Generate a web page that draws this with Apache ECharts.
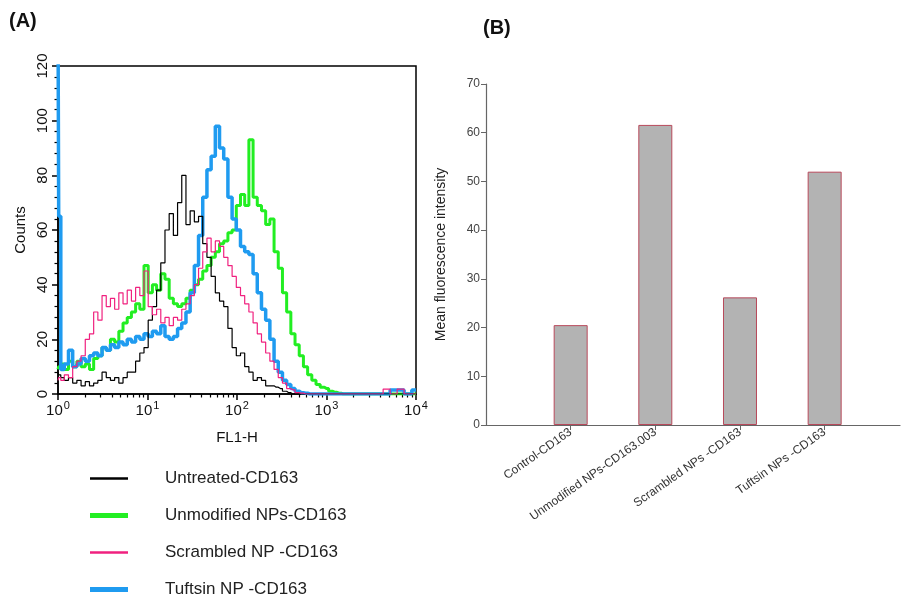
<!DOCTYPE html>
<html>
<head>
<meta charset="utf-8">
<title>CD163</title>
<script src="https://cdn.jsdelivr.net/npm/echarts@6/dist/echarts.min.js"></script>
<style>
  html, body { margin: 0; padding: 0; background: #fff; }
  #main { width: 906px; height: 608px; }
</style>
</head>
<body>
<div id="main"></div>
<script>
  // (A) FL1-H histogram, 256 channels over 4 decades
  var channels = [0,1,3,6,9,12,15,18,21,24,27,30,33,36,39,42,45,48,51,54,57,60,63,66,69,72,75,78,81,84,87,90,
    93,96,99,102,105,108,111,114,117,120,123,126,129,132,135,138,141,144,147,150,153,156,159,162,165,168,171,174,
    177,180,183,186,189,192,195,198,201,204,212,222,230,235,240,245,250,256];
  var untreated = [8,7, 6,5,6,4,5,3,4.5,3,4,5, 8,6,5,6,4,6,8,8,12,15, 17,27,32,38,48,60,66,58,70,80,
    62,67,63,65,55,50,43,37,34,32, 24,17,14,15,10,8,5,6,5,3, 3,2.5,2,1,0.5,0,0,0,0,0, 0,0,0,0,0,0,0,0, 0,0,0,0,0,0,0,0];
  var unmodified = [9,10, 11,9,12,10,12,10,11,9,13,14, 17,16,20,19,23,26,28,30,33,31, 47,37,40,38,44,42,35,33,32,33,
    35,38,40,42,45,47,50,52,55,56, 59,60,69,73,69,93,72,69,67,62, 64,52,46,37,30,22,18,14,10,7, 5,3.5,2.5,2,1,0.6,0.3,0, 0,0,0,0,0,0,0,0];
  var scrambled = [5,6, 5,7,6,10,12,14,20,22,30,27, 36,32,35,31,37,33,38,34,39,36, 45,32,29,31,26,28,25,28,27,31,
    33,36,40,46,52,57,52,56,54,50, 47,43,39,36,33,30,26,22,19,15, 12,9,6,4,2,1.5,0.5,0.3,0,0, 0,0,0,0,0,0,0,0, 0,0,0,1.8,0,1.8,0,0];
  var tuftsin = [140,65, 9,11,16,10,11,13,12,14,15,14, 17,16,18,17,19,18,20,19,21,20, 22,21,23,22,25,21,20,21,24,26,
    30,37,47,58,72,82,87,98,90,86, 72,64,60,54,52,51,44,37,31,27, 20,12,8,5,3.5,2,1,0.5,0.3,0, 0,0,0,0,0,0,0,0, 0,0,0,0,1.5,1.5,0,1.5];
  var histNames = ['Untreated-CD163', 'Unmodified NPs-CD163', 'Scrambled NP -CD163', 'Tuftsin NP -CD163'];
  var histColors = ['#000000', '#22ee22', '#f0217f', '#1f9bf0'];
  var histWidths = [1.2, 3, 1.2, 3.5];
  var legendWidths = [2.5, 5, 2.5, 5];

  // (B) mean fluorescence intensity
  var groups = ['Control-CD163', 'Unmodified NPs-CD163.003', 'Scrambled NPs -CD163', 'Tuftsin NPs -CD163'];
  var mfi = [20.5, 61.6, 26.2, 52.0];

  var font = 'Liberation Sans, Arial, sans-serif';
  var decadeTicks = [0, 64, 128, 192, 256];
  var minorTicks = [];
  for (var d = 0; d < 4; d++) {
    for (var m = 2; m <= 9; m++) minorTicks.push(64 * d + 64 * Math.log10(m));
  }

  function pairs(arr) {
    return channels.map(function (c, i) { return [c, arr[i]]; });
  }
  var histData = [untreated, unmodified, scrambled, tuftsin];
  var drawOrder = [1, 3, 0, 2];

  var myChart = echarts.init(document.getElementById('main'));
  var option = {
    animation: false,
    backgroundColor: '#fff',
    textStyle: { fontFamily: font },
    title: [
      { text: '(A)', left: 9, top: 11, padding: 0, textStyle: { fontSize: 20, fontWeight: 'bold', color: '#111', fontFamily: font } },
      { text: '(B)', left: 483, top: 18, padding: 0, textStyle: { fontSize: 20, fontWeight: 'bold', color: '#111', fontFamily: font } }
    ],
    legend: histNames.map(function (n, i) {
      return {
        data: [n], left: 90, top: 470 + i * 37, padding: 0, selectedMode: false,
        icon: 'rect', itemWidth: 38, itemHeight: legendWidths[i],
        textStyle: { fontSize: 17, color: '#222', fontFamily: font, padding: [0, 0, 22, 32] }
      };
    }),
    grid: [
      { left: 58, top: 66, width: 358, height: 328, show: true, borderColor: '#000', borderWidth: 1.5, backgroundColor: 'transparent' },
      { left: 486, top: 84, width: 414, height: 341 }
    ],
    xAxis: [
      {
        type: 'value', gridIndex: 0, min: 0, max: 256,
        name: 'FL1-H', nameLocation: 'middle', nameGap: 36,
        nameTextStyle: { fontSize: 15, color: '#111' },
        axisLine: { lineStyle: { color: '#000', width: 1.5 } },
        axisTick: { customValues: decadeTicks, length: 6, lineStyle: { color: '#000', width: 1.5 } },
        axisLabel: {
          customValues: decadeTicks, margin: 6, color: '#111',
          formatter: function (v) { return '{b|10}{s|' + Math.round(v / 64) + '}'; },
          rich: {
            b: { fontSize: 15, color: '#111' },
            s: { fontSize: 11, color: '#111', padding: [0, 0, 10, 1] }
          }
        },
        splitLine: { show: false }
      },
      {
        type: 'value', gridIndex: 0, min: 0, max: 256, position: 'bottom',
        axisLine: { show: false },
        axisTick: { customValues: minorTicks, length: 3.5, lineStyle: { color: '#000', width: 1.2 } },
        axisLabel: { show: false },
        splitLine: { show: false }
      },
      {
        type: 'value', gridIndex: 1, min: 0, max: 4.89,
        axisLine: { show: true, lineStyle: { color: '#666', width: 1.2 } },
        axisTick: { show: true, customValues: [1, 2, 3, 4], length: 5, lineStyle: { color: '#666' } },
        axisLabel: {
          customValues: [1, 2, 3, 4], rotate: 35, fontSize: 12, color: '#333', margin: 6,
          formatter: function (v) { return groups[Math.round(v) - 1]; }
        },
        splitLine: { show: false }
      }
    ],
    yAxis: [
      {
        type: 'value', gridIndex: 0, min: 0, max: 120, interval: 20,
        name: 'Counts', nameLocation: 'middle', nameGap: 30,
        nameTextStyle: { fontSize: 15, color: '#111' },
        axisLine: { show: true, lineStyle: { color: '#000', width: 1.5 } },
        axisTick: { show: true, length: 6, lineStyle: { color: '#000', width: 1.5 } },
        minorTick: { show: true, splitNumber: 5, length: 3.5, lineStyle: { color: '#000', width: 1.2 } },
        axisLabel: { rotate: 90, fontSize: 15, color: '#111', margin: 8 },
        splitLine: { show: false }
      },
      {
        type: 'value', gridIndex: 1, min: 0, max: 70, interval: 10,
        name: 'Mean fluorescence intensity', nameLocation: 'middle', nameGap: 38,
        nameTextStyle: { fontSize: 14, color: '#222' },
        axisLine: { show: true, lineStyle: { color: '#666', width: 1.2 } },
        axisTick: { show: true, length: 5, lineStyle: { color: '#666' } },
        axisLabel: { fontSize: 12, color: '#444', margin: 6 },
        splitLine: { show: false }
      }
    ],
    series: drawOrder.map(function (i) {
      return {
        name: histNames[i], type: 'line', xAxisIndex: 0, yAxisIndex: 0,
        step: 'middle', showSymbol: false, symbol: 'none',
        color: histColors[i],
        lineStyle: { color: histColors[i], width: histWidths[i] },
        data: pairs(histData[i])
      };
    }).concat([{
      name: 'MFI', type: 'bar', xAxisIndex: 2, yAxisIndex: 1, barWidth: 34,
      itemStyle: { color: '#b3b3b3', borderColor: '#b8495b', borderWidth: 1 },
      data: groups.map(function (g, i) { return [i + 1, mfi[i]]; })
    }])
  };
  myChart.setOption(option);
</script>
</body>
</html>
